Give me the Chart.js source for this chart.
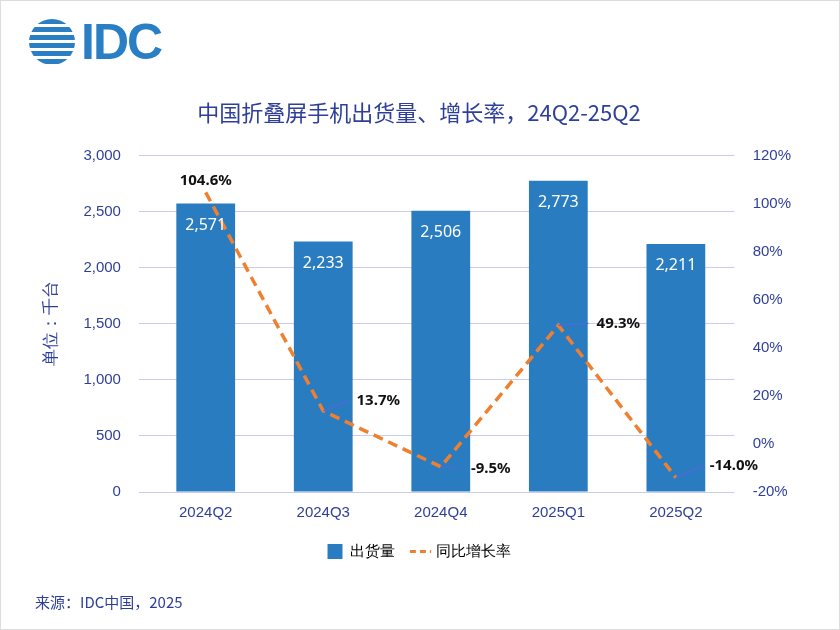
<!DOCTYPE html>
<html><head><meta charset="utf-8">
<script src="https://cdn.jsdelivr.net/npm/chart.js@4"></script>
<style>
body{margin:0;background:#fff;font-family:"Noto Sans CJK SC","Noto Sans",sans-serif;}
#wrap{position:relative;width:840px;height:630px;box-sizing:border-box;border:1px solid #ddd;}
#logo{position:absolute;left:28px;top:18px;display:flex;align-items:center;}
#globe{width:46px;height:46px;border-radius:50%;background:repeating-linear-gradient(#2a7fc4 0 5px,#fff 5px 8px);}
#logotxt{font-family:"Liberation Sans",sans-serif;font-weight:bold;font-size:50px;color:#2a7fc4;margin-left:6px;letter-spacing:-2px;line-height:46px}
#src{position:absolute;left:34px;top:590px;font-size:15px;color:#2e3f9a;}
canvas{position:absolute;left:0;top:0;}
</style></head><body>
<div id="wrap"><canvas id="c" width="840" height="630"></canvas>
<div id="logo"><div id="globe"></div><div id="logotxt">IDC</div></div>
<div id="src">来源：IDC中国，2025</div></div>
<script>
const categories=["2024Q2","2024Q3","2024Q4","2025Q1","2025Q2"];
const shipments=[2571,2233,2506,2773,2211];
const growth=[104.6,13.7,-9.5,49.3,-14.0];
const labelOffsets=[[0,-12],[55,-10],[50,2],[60,-2],[58,-12]];
const blue="#2e3f9a";
const labels={id:'lbl',afterDatasetsDraw(ch){
 const ctx=ch.ctx;ctx.save();
 ctx.font="16px 'Noto Sans'";ctx.fillStyle="#fff";ctx.textAlign="center";ctx.textBaseline="middle";
 ch.getDatasetMeta(0).data.forEach((b,i)=>ctx.fillText(shipments[i].toLocaleString('en-US'),b.x,b.y+22));
 ch.getDatasetMeta(1).data.forEach((p,i)=>{
  const [dx,dy]=labelOffsets[i];
  if(dx){ctx.strokeStyle="#5566dd";ctx.lineWidth=1.2;ctx.beginPath();ctx.moveTo(p.x,p.y);ctx.lineTo(p.x+dx-30,p.y+dy);ctx.stroke();}
  ctx.font="bold 15px 'Noto Sans'";ctx.fillStyle="#111";
  ctx.fillText(growth[i].toFixed(1)+"%",p.x+dx,p.y+dy);
 });
 ctx.restore();}};
new Chart(document.getElementById('c'),{
 data:{labels:categories,datasets:[
  {type:'bar',label:'出货量',data:shipments,backgroundColor:'#2a7cc0',yAxisID:'y',barPercentage:0.5,categoryPercentage:1,order:2},
  {type:'line',label:'同比增长率',data:growth,borderColor:'#ee8030',borderWidth:3.5,borderDash:[10,6],pointRadius:0,yAxisID:'y1',order:1}]},
 options:{responsive:false,animation:false,
  layout:{padding:{left:36,right:40,top:98,bottom:62}},
  plugins:{title:{display:true,text:'中国折叠屏手机出货量、增长率，24Q2-25Q2',color:blue,font:{size:22,weight:'normal',family:"'Noto Sans CJK SC'"},padding:{bottom:30}},
   legend:{position:'bottom',labels:{color:'#333',font:{size:15},usePointStyle:true,padding:18,
    generateLabels:()=>[{text:'出货量',fillStyle:'#2a7cc0',strokeStyle:'#2a7cc0',lineWidth:0,pointStyle:'rect'},{text:'同比增长率',fillStyle:'#ee8030',strokeStyle:'#ee8030',lineWidth:3,lineDash:[6,4],pointStyle:'line'}]}},
   tooltip:{enabled:false}},
  scales:{x:{grid:{display:false},border:{display:false},ticks:{color:blue,font:{size:15},padding:4}},
   y:{min:0,max:3000,ticks:{stepSize:500,color:blue,font:{size:15},padding:18,callback:v=>v.toLocaleString('en-US')},grid:{color:'#c9cbef'},border:{display:false},
    title:{display:true,text:'单位：千台',color:blue,font:{size:17},padding:{bottom:4}}},
   y1:{position:'right',min:-20,max:120,ticks:{stepSize:20,color:blue,font:{size:15},padding:10,callback:v=>v+'%'},grid:{display:false},border:{display:false}}}},
 plugins:[labels]});
</script></body></html>
